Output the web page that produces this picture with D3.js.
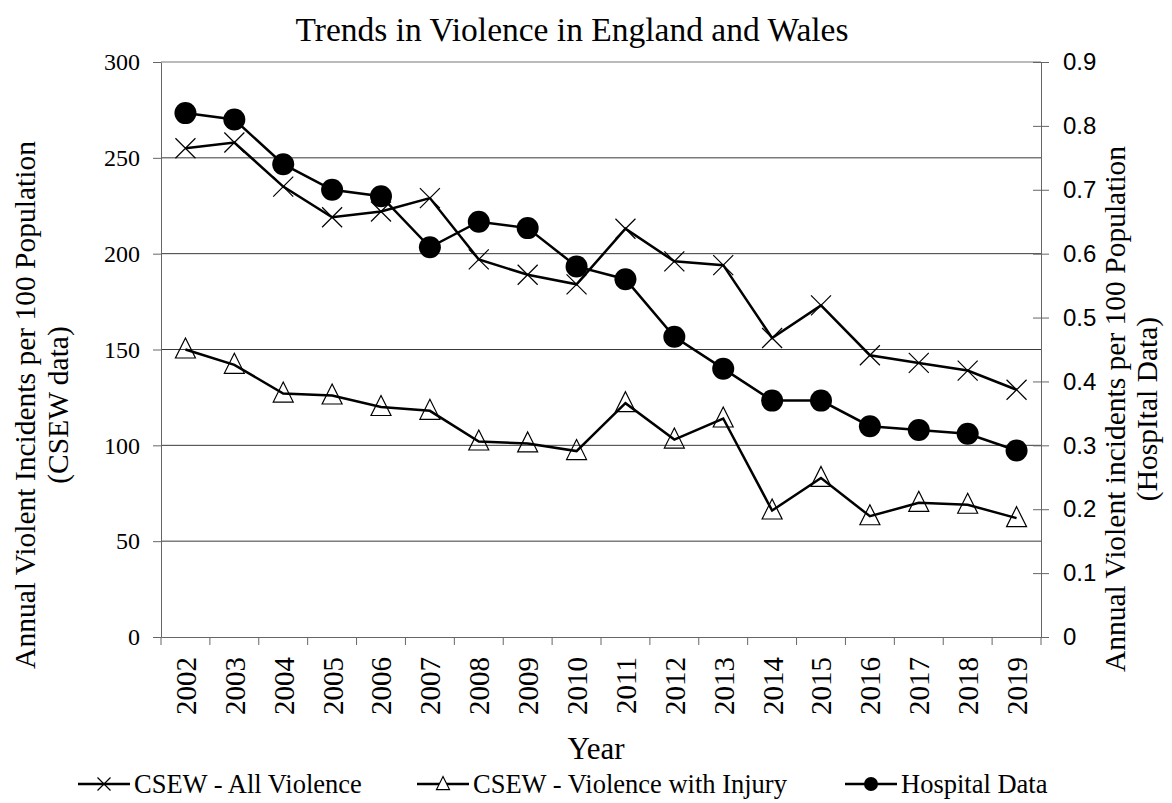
<!DOCTYPE html>
<html>
<head>
<meta charset="utf-8">
<script src="https://cdn.jsdelivr.net/npm/d3@7"></script>
<style>
  body { margin: 0; background: #fff; }
  svg text { fill: #000; }
</style>
</head>
<body>
<div id="chart"></div>
<script>
// values
const years = ["2002", "2003", "2004", "2005", "2006", "2007", "2008", "2009", "2010",
               "2011", "2012", "2013", "2014", "2015", "2016", "2017", "2018", "2019"];
const allViolence = [255, 258, 235, 219, 222, 229, 197, 189, 184, 213, 196, 194, 156, 173, 147, 143, 139, 129];
const withInjury = [150, 142, 127, 126, 120, 118, 102, 101, 97, 122, 103, 114, 66, 83, 63, 70, 69, 62];
const hospital = [0.82, 0.81, 0.74, 0.70, 0.69, 0.61, 0.65, 0.64, 0.58, 0.56, 0.47, 0.42, 0.37, 0.37, 0.33, 0.324, 0.318, 0.292];
const leftTicks = [0, 50, 100, 150, 200, 250, 300];
const rightTicks = [0, 0.1, 0.2, 0.3, 0.4, 0.5, 0.6, 0.7, 0.8, 0.9];

const W = 1172, H = 803;
const margin = {top: 62, right: 131, bottom: 166, left: 161};
const width = W - margin.left - margin.right,
      height = H - margin.top - margin.bottom;

const serif = "'Liberation Serif', 'Times New Roman', serif";
const sans = "'Liberation Sans', Arial, sans-serif";
const axisColor = "#666";

const svg = d3.select("#chart").append("svg")
    .attr("width", W)
    .attr("height", H);

const g = svg.append("g")
    .attr("transform", `translate(${margin.left}, ${margin.top})`);

const x = d3.scaleBand().domain(years).range([0, width]);
const yL = d3.scaleLinear().domain([0, 300]).range([height, 0]);
const yR = d3.scaleLinear().domain([0, 0.9]).range([height, 0]);

// gridlines
g.append("g")
  .selectAll("line")
  .data(leftTicks.filter(d => d > 0))
  .join("line")
    .attr("x1", 0).attr("x2", width)
    .attr("y1", d => yL(d)).attr("y2", d => yL(d))
    .attr("stroke", d => d === 300 ? "#777" : "#3a3a3a")
    .attr("stroke-width", 1);

// left axis
const leftAxis = g.append("g")
  .call(d3.axisLeft(yL).tickValues(leftTicks).tickSize(8).tickSizeOuter(0).tickPadding(13));
leftAxis.attr("font-family", null);
leftAxis.selectAll("text").style("font-family", serif).style("font-size", "24px");
leftAxis.selectAll("path, line").attr("stroke", axisColor);

// right axis, ticks cross the line
const rightAxis = g.append("g")
  .attr("transform", `translate(${width}, 0)`)
  .call(d3.axisRight(yR).tickValues(rightTicks).tickFormat(d3.format("")).tickSize(8).tickSizeOuter(0).tickPadding(14));
rightAxis.selectAll(".tick line").attr("x1", -8);
rightAxis.selectAll("text").style("font-family", sans).style("font-size", "24px");
rightAxis.selectAll("path, line").attr("stroke", axisColor);

// bottom axis: labels at band centres, ticks at band edges
const bottomAxis = g.append("g")
  .attr("transform", `translate(0, ${height})`)
  .call(d3.axisBottom(x).tickSize(0).tickSizeOuter(0));
bottomAxis.select("path").attr("stroke", axisColor);
bottomAxis.selectAll("text")
  .style("font-family", serif)
  .style("font-size", "29px")
  .attr("text-anchor", "end")
  .attr("transform", "rotate(-90)")
  .attr("x", -20)
  .attr("y", 0)
  .attr("dy", "0.36em");
bottomAxis.selectAll(".edge")
  .data(d3.range(years.length + 1))
  .join("line")
    .attr("class", "edge")
    .attr("x1", i => i * x.step()).attr("x2", i => i * x.step())
    .attr("y1", 0).attr("y2", 8)
    .attr("stroke", axisColor);

// series
const cx = (d, i) => x(years[i]) + x.bandwidth() / 2;

const lineL = d3.line().x(cx).y(d => yL(d));
const lineR = d3.line().x(cx).y(d => yR(d));

const crossPath = s => `M${-s},${-s}L${s},${s}M${-s},${s}L${s},${-s}`;
const triPath = s => `M0,${-s * 1.15}L${s},${s * 0.85}L${-s},${s * 0.85}Z`;

// All violence
g.append("path").datum(allViolence)
  .attr("d", lineL).attr("fill", "none").attr("stroke", "#000").attr("stroke-width", 2.5);
g.append("g").selectAll("path").data(allViolence).join("path")
  .attr("transform", (d, i) => `translate(${cx(d, i)}, ${yL(d)})`)
  .attr("d", crossPath(10))
  .attr("stroke", "#000").attr("stroke-width", 1.2).attr("fill", "none");

// Violence with injury
g.append("path").datum(withInjury)
  .attr("d", lineL).attr("fill", "none").attr("stroke", "#000").attr("stroke-width", 2.5);
g.append("g").selectAll("path").data(withInjury).join("path")
  .attr("transform", (d, i) => `translate(${cx(d, i)}, ${yL(d)})`)
  .attr("d", triPath(10))
  .attr("stroke", "#000").attr("stroke-width", 1.2).attr("fill", "none");

// Hospital data
g.append("path").datum(hospital)
  .attr("d", lineR).attr("fill", "none").attr("stroke", "#000").attr("stroke-width", 2.5);
g.append("g").selectAll("circle").data(hospital).join("circle")
  .attr("cx", cx).attr("cy", d => yR(d)).attr("r", 11)
  .attr("fill", "#000");

// title
svg.append("text")
  .attr("x", 572).attr("y", 41)
  .attr("text-anchor", "middle")
  .style("font-family", serif).style("font-size", "33.5px")
  .text("Trends in Violence in England and Wales");

// left axis title
const lt = svg.append("text")
  .attr("transform", "translate(0, 405) rotate(-90)")
  .attr("text-anchor", "middle")
  .style("font-family", serif).style("font-size", "29.5px");
lt.append("tspan").attr("x", 0).attr("y", 35).text("Annual Violent Incidents per 100 Population");
lt.append("tspan").attr("x", 0).attr("y", 68).text("(CSEW data)");

// right axis title
const rt = svg.append("text")
  .attr("transform", "translate(0, 409) rotate(-90)")
  .attr("text-anchor", "middle")
  .style("font-family", serif).style("font-size", "29.5px");
rt.append("tspan").attr("x", 0).attr("y", 1125).text("Annual Violent incidents per 100 Population");
rt.append("tspan").attr("x", 0).attr("y", 1157).text("(HospItal Data)");

// x axis title
svg.append("text")
  .attr("x", 596).attr("y", 759)
  .attr("text-anchor", "middle")
  .style("font-family", serif).style("font-size", "31px")
  .text("Year");

// legend
const legendItems = [
  {label: "CSEW - All Violence", x: 78, marker: "cross"},
  {label: "CSEW - Violence with Injury", x: 417, marker: "tri"},
  {label: "Hospital Data", x: 845, marker: "dot"}
];
const leg = svg.append("g").selectAll("g").data(legendItems).join("g")
  .attr("transform", d => `translate(${d.x}, 784)`);
leg.append("line")
  .attr("x1", 0).attr("x2", 52).attr("y1", 0).attr("y2", 0)
  .attr("stroke", "#000").attr("stroke-width", 2.5);
leg.filter(d => d.marker === "cross").append("path")
  .attr("transform", "translate(26, 0)").attr("d", crossPath(6.5))
  .attr("stroke", "#000").attr("stroke-width", 1.2);
leg.filter(d => d.marker === "tri").append("path")
  .attr("transform", "translate(26, 0)").attr("d", triPath(6.5))
  .attr("stroke", "#000").attr("stroke-width", 1.2).attr("fill", "#fff");
leg.filter(d => d.marker === "dot").append("circle")
  .attr("cx", 26).attr("r", 7).attr("fill", "#000");
leg.append("text")
  .attr("x", 56).attr("y", 9)
  .style("font-family", serif).style("font-size", "26.5px")
  .text(d => d.label);
</script>
</body>
</html>
